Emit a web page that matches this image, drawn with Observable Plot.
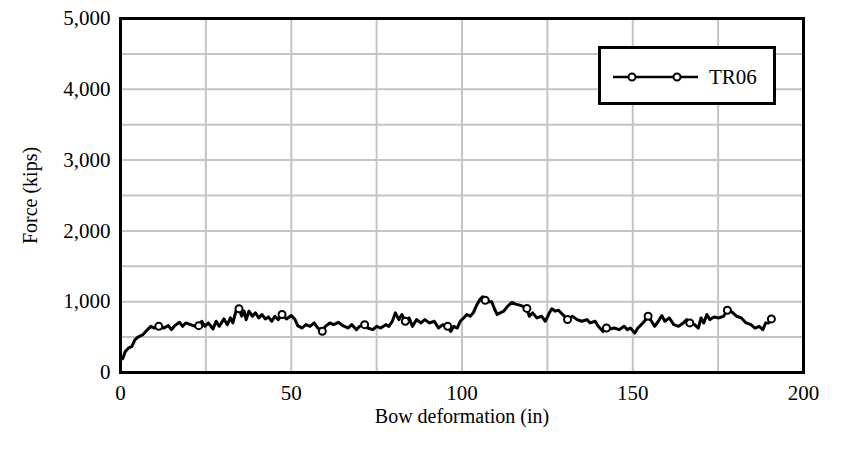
<!DOCTYPE html>
<html>
<head>
<meta charset="utf-8">
<script src="https://cdn.jsdelivr.net/npm/d3@7"></script>
<script src="https://cdn.jsdelivr.net/npm/@observablehq/plot@0.6"></script>
<style>
  html, body { margin: 0; padding: 0; background: #fff; }
  #wrap { position: relative; width: 853px; height: 449px; font-family: "Liberation Serif", serif; }
  #legend { position: absolute; left: 598px; top: 46px; width: 172px; height: 53px; border: 3px solid #000; background: #fff; }
  #legend svg { position: absolute; left: 0; top: 0; }
  #legend span { position: absolute; left: 108px; top: 16px; font-size: 21px; line-height: 24px; color: #000; }
</style>
</head>
<body>
<div id="wrap"><div id="legend"><svg width="100" height="53"><line x1="12" y1="28" x2="97" y2="28" stroke="#000" stroke-width="2.5"/><circle cx="31" cy="28" r="3.5" fill="#fff" stroke="#000" stroke-width="2"/><circle cx="76" cy="28" r="3.5" fill="#fff" stroke="#000" stroke-width="2"/></svg><span>TR06</span></div></div>
<script>
const seriesName = "TR06";
const deformation = [0, 0.7, 1.4, 2.3, 3.3, 4.2, 5.1, 6.5, 7.9, 8.9, 9.8, 11.2, 12.6, 14.0, 14.9, 15.9, 17.3, 18.2, 19.1, 20.5, 21.9, 22.9, 23.8, 24.7, 25.7, 27.1, 28.0, 28.9, 30.3, 31.3,
  32.2, 32.9, 33.8, 34.7, 35.5, 36.2, 36.8, 37.6, 38.6, 39.5, 40.5, 41.4, 42.4, 43.3, 44.3, 45.2, 46.2, 47.3, 48.6, 50.0, 51.1, 51.9, 53.1, 54.3, 55.5, 56.7, 57.8, 59.1, 60.0, 61.3, 62.4, 63.8, 65.1,
  66.7, 67.7, 69.1, 70.0, 71.5, 72.4, 73.9, 75.0, 76.2, 77.7, 78.6, 79.6, 80.5, 81.5, 82.4, 83.4, 84.5, 85.5, 86.7, 88.0, 89.1, 90.5, 91.9, 93.1, 94.4, 95.8,
  96.7, 97.6, 98.6, 99.5, 100.5, 101.4, 102.4, 103.3, 104.4, 105.4, 106.1, 106.8, 107.7, 108.7, 109.6, 110.3, 111.2, 112.2, 113.4, 114.6, 115.7, 116.9, 118.1, 119.0, 119.7, 120.7, 121.9, 123.3, 124.4, 125.6, 126.3, 127.3, 128.2,
  129.0, 130.0, 130.9, 132.3, 133.7, 135.1, 136.6, 137.5, 139.0, 139.9, 141.3, 142.3, 143.4, 144.6, 146.0, 147.5, 148.4, 149.3, 150.6, 151.5, 152.5, 153.4, 154.5, 155.5, 156.4, 157.5, 158.5, 159.4, 160.7,
  162.0, 163.4, 164.8, 165.8, 166.7, 168.1, 169.2, 170.0, 170.8, 171.7, 172.6, 173.8, 175.2, 176.6, 177.7, 178.9, 180.4, 181.8, 183.2, 184.6, 185.8, 187.0, 188.1, 188.9, 189.8, 190.6];
const force = [180, 200, 295, 343, 367, 462, 500, 533, 605, 652, 628, 652, 628, 662, 605, 662, 709, 652, 700, 676, 652, 662, 724, 652, 700, 614, 724, 652, 757, 676,
  771, 700, 866, 900, 795, 866, 747, 866, 795, 843, 771, 819, 757, 785, 724, 795, 747, 819, 757, 805, 747, 662, 628, 676, 652, 700, 628, 581, 652, 700, 676, 709, 662,
  628, 676, 605, 652, 676, 628, 605, 652, 628, 676, 652, 724, 843, 747, 819, 724, 771, 652, 747, 700, 747, 700, 724, 628, 676, 652,
  581, 652, 628, 724, 771, 819, 795, 843, 962, 1040, 1070, 1020, 1000, 1000, 890, 819, 843, 866, 938, 990, 966, 952, 930, 905, 795, 843, 771, 795, 724, 843, 900, 866, 880,
  843, 795, 747, 795, 747, 724, 747, 700, 724, 652, 581, 628, 614, 628, 605, 652, 605, 628, 557, 628, 676, 724, 795, 724, 652, 724, 805, 724, 771,
  676, 652, 700, 747, 700, 676, 628, 771, 700, 819, 747, 785, 771, 795, 880, 860, 795, 771, 700, 676, 628, 652, 605, 700, 700, 757];
const markerDeformation = [10.7, 23, 35, 47.5, 59.3, 71.3, 83.1, 95.5, 107.2, 118.8, 130.7, 142.5, 154.5, 166.9, 178.1, 190.6];
const xTicks = [0, 50, 100, 150, 200];
const yTicks = [0, 1000, 2000, 3000, 4000, 5000];
const xGrid = [25, 50, 75, 100, 125, 150, 175];
const yGrid = [500, 1000, 1500, 2000, 2500, 3000, 3500, 4000, 4500];

const data = deformation.map((x, i) => ({x, y: force[i]}));
const markers = markerDeformation.map(m => data.reduce((a, b) => Math.abs(b.x - m) < Math.abs(a.x - m) ? b : a));

const chart = Plot.plot({
  width: 853,
  height: 449,
  marginLeft: 120,
  marginRight: 50,
  marginTop: 18,
  marginBottom: 77,
  style: {fontFamily: "Liberation Serif, serif", fontSize: "20px", color: "#000", background: "#fff"},
  x: {domain: [0, 200]},
  y: {domain: [0, 5000]},
  marks: [
    Plot.gridX(xGrid, {stroke: "#c4c4c4", strokeOpacity: 1, strokeWidth: 2}),
    Plot.gridY(yGrid, {stroke: "#c4c4c4", strokeOpacity: 1, strokeWidth: 2}),
    Plot.axisX(xTicks, {tickSize: 0, tickPadding: 13, fontSize: 21, label: null}),
    Plot.axisX([], {label: "Bow deformation (in)", labelAnchor: "center", labelArrow: "none", labelOffset: 50, fontSize: 20}),
    Plot.axisY(yTicks, {tickSize: 0, tickPadding: 10, fontSize: 21, tickFormat: d3.format(","), label: null}),
    Plot.axisY([], {label: "Force (kips)", labelAnchor: "center", labelArrow: "none", labelOffset: 98, fontSize: 20}),
    Plot.line(data, {x: "x", y: "y", stroke: "#000", strokeWidth: 3}),
    Plot.dot(markers, {x: "x", y: "y", r: 3.5, stroke: "#000", strokeWidth: 2, fill: "#fff"}),
    Plot.frame({stroke: "#000", strokeWidth: 3})
  ]
});
document.getElementById("wrap").prepend(chart);
</script>
</body>
</html>
